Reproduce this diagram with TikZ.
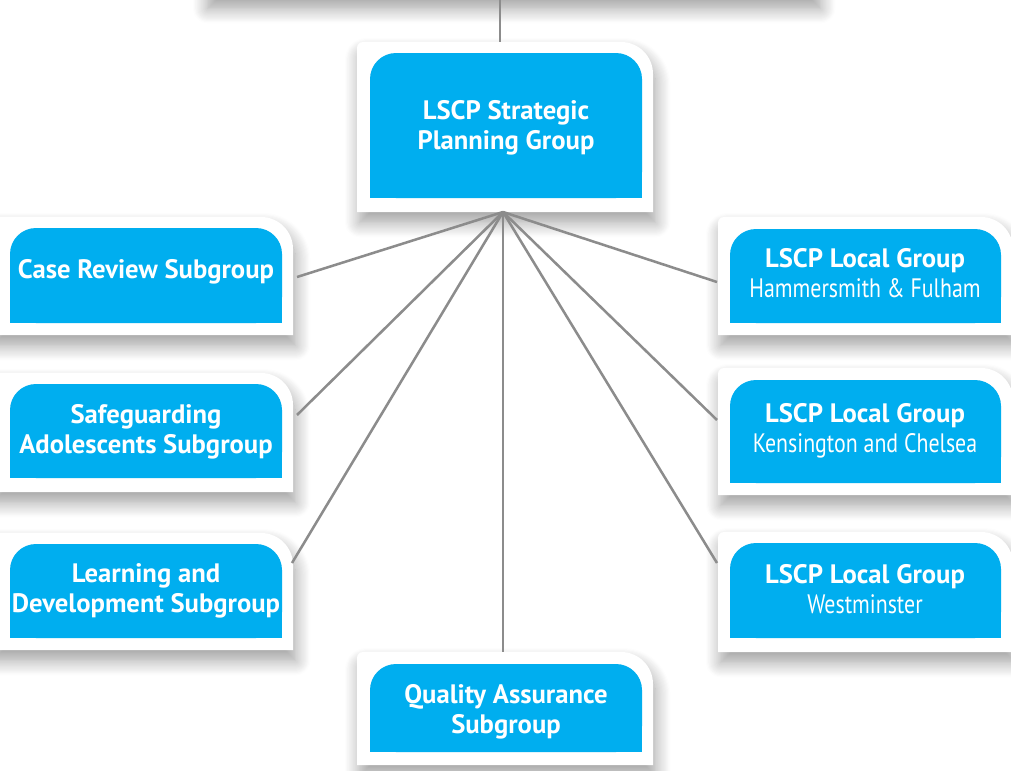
\documentclass[tikz,border=0pt]{standalone}
\usepackage{fontspec}
\usepackage{graphicx}
\setmainfont{PT Sans}
\usetikzlibrary{shadows.blur}
\definecolor{lscpblue}{HTML}{00AEEF}
\definecolor{linkgray}{HTML}{8C8C8C}
\newcommand\lscppanel[4]{%
  \fill[white, blur shadow={shadow xshift=2pt, shadow yshift=-8pt, shadow blur radius=11pt, shadow opacity=38, shadow blur steps=14}]
  (#1,#4) -- (#1,#2+6) arc[start angle=180,end angle=270,radius=6] -- (#3-32,#2) arc[start angle=270,end angle=360,radius=32] -- (#3,#4) -- cycle;}
\newcommand\lscpblue[4]{%
  \fill[lscpblue, rounded corners=19.5pt] (#1,#2) rectangle (#3,#4);
  \fill[lscpblue] (#1,#4-30) rectangle (#3,#4);}
\tikzset{
  lbl/.style={text=white, font=\bfseries\fontsize{20}{22.5}\selectfont, align=center, inner sep=0pt},
  link/.style={draw=linkgray, line width=1.9pt}
}
\newcommand\lite[1]{\scalebox{0.82}[1]{\mdseries #1}}
\begin{document}
\begin{tikzpicture}[x=0.75pt,y=-0.75pt]
\useasboundingbox (0,0) rectangle (1011,771);
\clip (0,0) rectangle (1011,771);
% panels
\lscppanel{205}{-150}{818}{-2}
\lscppanel{357}{42}{653}{212}
\lscppanel{-10}{217}{293}{335}
\lscppanel{-10}{373}{293}{492}
\lscppanel{-10}{533}{293}{650}
\lscppanel{357}{652}{653}{765}
\lscppanel{718}{217}{1013}{335}
\lscppanel{718}{368}{1013}{495}
\lscppanel{718}{532}{1013}{652}
% blue boxes
\lscpblue{370}{53}{642}{198}
\lscpblue{10}{228}{282}{323}
\lscpblue{10}{384}{282}{478}
\lscpblue{10}{544}{282}{638}
\lscpblue{370}{664}{642}{752}
\lscpblue{730}{229}{1001}{323}
\lscpblue{730}{380}{1001}{483}
\lscpblue{730}{543}{1001}{638}
% connector ends
\coordinate (topS) at (500,-2);
\coordinate (spgN) at (500,42);
\coordinate (hub) at (503,212);
\coordinate (crE) at (297,277);
\coordinate (saE) at (297,415);
\coordinate (ldE) at (292,563);
\coordinate (qaN) at (503,652);
\coordinate (hfW) at (717,282);
\coordinate (kcW) at (717,420);
\coordinate (wmW) at (717,563);
\draw[link] (topS) -- (spgN);
\draw[link] (hub) -- (crE);
\draw[link] (hub) -- (saE);
\draw[link] (hub) -- (ldE);
\draw[link] (hub) -- (qaN);
\draw[link] (hub) -- (hfW);
\draw[link] (hub) -- (kcW);
\draw[link] (hub) -- (wmW);
% labels (base anchor = baseline of last line)
\node[lbl, anchor=base] (spg) at (506,149) {LSCP Strategic\\Planning Group};
\node[lbl, anchor=base] (cr) at (146,278) {Case Review Subgroup};
\node[lbl, anchor=base] (sa) at (146,453) {Safeguarding\\Adolescents Subgroup};
\node[lbl, anchor=base] (ld) at (146,612) {Learning and\\Development Subgroup};
\node[lbl, anchor=base] (qa) at (506,733) {Quality Assurance\\Subgroup};
\node[lbl, anchor=base] (hf) at (865,297) {LSCP Local Group\\\lite{Hammersmith \& Fulham}};
\node[lbl, anchor=base] (kc) at (865,452) {LSCP Local Group\\\lite{Kensington and Chelsea}};
\node[lbl, anchor=base] (wm) at (865,613) {LSCP Local Group\\\lite{Westminster}};
\end{tikzpicture}
\end{document}
